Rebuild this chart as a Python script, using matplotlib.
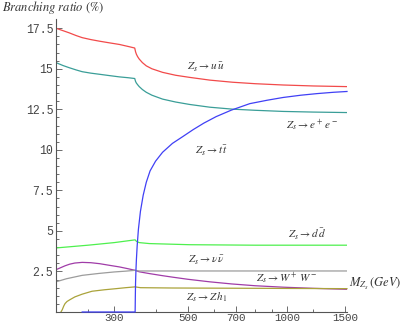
import numpy as np
import matplotlib.pyplot as plt
from matplotlib.ticker import FixedLocator, NullFormatter

plt.rcParams['mathtext.fontset'] = 'stix'

# Z_s -> u ubar
uu_m = [200, 210, 219, 230, 240, 255, 271, 290, 311, 330, 346, 348, 350, 353, 357, 365, 375, 390, 420,
        460, 507, 584, 684, 800, 972, 1200, 1517]
uu_br = [17.5, 17.35, 17.22, 17.05, 16.92, 16.8, 16.7, 16.6, 16.5, 16.38, 16.28, 16.05, 15.9, 15.75, 15.6,
         15.38, 15.18, 15.0, 14.78, 14.6, 14.47, 14.3, 14.17, 14.08, 14.0, 13.94, 13.9]

# Z_s -> e+ e-
ee_m = [200, 210, 219, 230, 240, 255, 271, 290, 311, 330, 346, 348, 350, 353, 357, 365, 375, 390, 420,
        460, 507, 584, 684, 800, 972, 1200, 1517]
ee_br = [15.38, 15.2, 15.07, 14.93, 14.82, 14.73, 14.66, 14.58, 14.5, 14.45, 14.4, 14.22, 14.12, 14.02, 13.9,
         13.72, 13.55, 13.37, 13.13, 12.95, 12.8, 12.63, 12.51, 12.44, 12.37, 12.33, 12.3]

# Z_s -> t tbar
tt_m = [240, 347, 347.5, 348, 349, 350, 352, 355, 360, 367, 375, 385, 400, 420, 450, 482, 520, 560, 610,
        678, 771, 870, 972, 1100, 1233, 1380, 1517]
tt_br = [0, 0, 1.0, 1.8, 2.6, 3.2, 4.1, 5.1, 6.2, 7.2, 8.0, 8.7, 9.3, 9.85, 10.4, 10.8, 11.25, 11.65, 12.05,
         12.45, 12.85, 13.06, 13.23, 13.37, 13.47, 13.55, 13.6]

# Z_s -> d dbar
dd_m = [200, 250, 300, 347, 350, 357, 383, 507, 800, 1517]
dd_br = [3.95, 4.12, 4.28, 4.45, 4.36, 4.28, 4.22, 4.15, 4.12, 4.12]

# Z_s -> nu nubar
nn_m = [200, 207, 213, 220, 228, 240, 255, 271, 290, 311, 330, 347, 357, 383, 420, 450, 500, 584, 680,
        800, 972, 1200, 1517]
nn_br = [2.61, 2.74, 2.85, 2.95, 3.02, 3.06, 3.04, 2.98, 2.88, 2.78, 2.67, 2.57, 2.48, 2.37, 2.24, 2.15,
         2.02, 1.86, 1.73, 1.62, 1.53, 1.46, 1.40]

# Z_s -> W+ W-
ww_m = [200, 215, 240, 270, 300, 325, 347, 357, 500, 1517]
ww_br = [1.86, 2.05, 2.26, 2.38, 2.47, 2.52, 2.57, 2.53, 2.53, 2.53]

# Z_s -> Z h1
zh_m = [207, 209, 211, 213, 216, 220, 228, 240, 257, 280, 304, 325, 347, 360, 450, 1517]
zh_br = [0, 0.15, 0.36, 0.52, 0.65, 0.75, 0.93, 1.1, 1.28, 1.37, 1.44, 1.5, 1.55, 1.5, 1.48, 1.44]

xticks = [300, 500, 700, 1000, 1500]
xminor = [250, 400, 600, 800, 900, 1200]
yticks = [2.5, 5, 7.5, 10, 12.5, 15, 17.5]

fig = plt.figure(figsize=(4.15, 3.24), dpi=100)
ax = fig.add_axes([56 / 415, 12 / 324, 291 / 415, 293 / 324])

lw = 0.9
ax.plot(uu_m, uu_br, color='#f24a4a', lw=lw)
ax.plot(ee_m, ee_br, color='#3a9e98', lw=lw)
ax.plot(tt_m, tt_br, color='#4040f5', lw=lw, clip_on=False, zorder=5)
ax.plot(dd_m, dd_br, color='#4ef04e', lw=lw)
ax.plot(nn_m, nn_br, color='#a03ca8', lw=lw)
ax.plot(ww_m, ww_br, color='#9c9c9c', lw=lw)
ax.plot(zh_m, zh_br, color='#aaa33a', lw=lw, clip_on=False)

ax.set_xscale('log')
ax.set_xlim(200, 1517)
ax.set_ylim(0, 18.07)

ax.xaxis.set_major_locator(FixedLocator(xticks))
ax.xaxis.set_minor_locator(FixedLocator(xminor))
ax.xaxis.set_minor_formatter(NullFormatter())
ax.set_xticklabels([str(v) for v in xticks])
ax.yaxis.set_major_locator(FixedLocator(yticks))
ax.yaxis.set_minor_locator(FixedLocator(np.arange(0.5, 18.0, 0.5)))
ax.set_yticklabels(['2.5', '5', '7.5', '10', '12.5', '15', '17.5'])

for s in ['top', 'right']:
    ax.spines[s].set_visible(False)
for s in ['left', 'bottom']:
    ax.spines[s].set_color('#555555')
    ax.spines[s].set_linewidth(0.8)

ax.tick_params(which='both', direction='in', color='#555555', width=0.6)
ax.tick_params(which='major', length=4)
ax.tick_params(which='minor', length=2.2)
ax.tick_params(axis='y', pad=2)
ax.tick_params(axis='x', pad=1)
for lab in ax.get_yticklabels():
    lab.set_fontfamily('Liberation Mono')
    lab.set_fontsize(8.3)
    lab.set_color('#444444')
for lab in ax.get_xticklabels():
    lab.set_fontfamily('Liberation Mono')
    lab.set_fontsize(7.8)
    lab.set_color('#444444')

tc = '#333333'
fs = 8
ax.text(567, 15.1, r'$Z_s \rightarrow u\,\bar{u}$', fontsize=fs, color=tc, ha='center', va='center')
ax.text(1189, 11.52, r'$Z_s \rightarrow e^+\,e^-$', fontsize=fs, color=tc, ha='center', va='center')
ax.text(592, 9.92, r'$Z_s \rightarrow t\,\bar{t}$', fontsize=fs, color=tc, ha='center', va='center')
ax.text(1148, 4.82, r'$Z_s \rightarrow d\,\bar{d}$', fontsize=fs, color=tc, ha='center', va='center')
ax.text(571, 3.17, r'$Z_s \rightarrow \nu\,\bar{\nu}$', fontsize=fs, color=tc, ha='center', va='center')
ax.text(999, 2.06, r'$Z_s \rightarrow W^+\,W^-$', fontsize=fs, color=tc, ha='center', va='center')
ax.text(571, 0.89, r'$Z_s \rightarrow Z\,h_1$', fontsize=fs, color=tc, ha='center', va='center')

fig.text(349 / 415, 1 - 284 / 324, r'$M_{Z_s}\,(GeV)$', fontsize=9, color=tc, ha='left', va='center')
fig.text(2 / 415, 1 - 8 / 324, r'$Branching\ ratio\ (\%)$', fontsize=9, color=tc, ha='left', va='center')

fig.savefig('out.png', dpi=100)
